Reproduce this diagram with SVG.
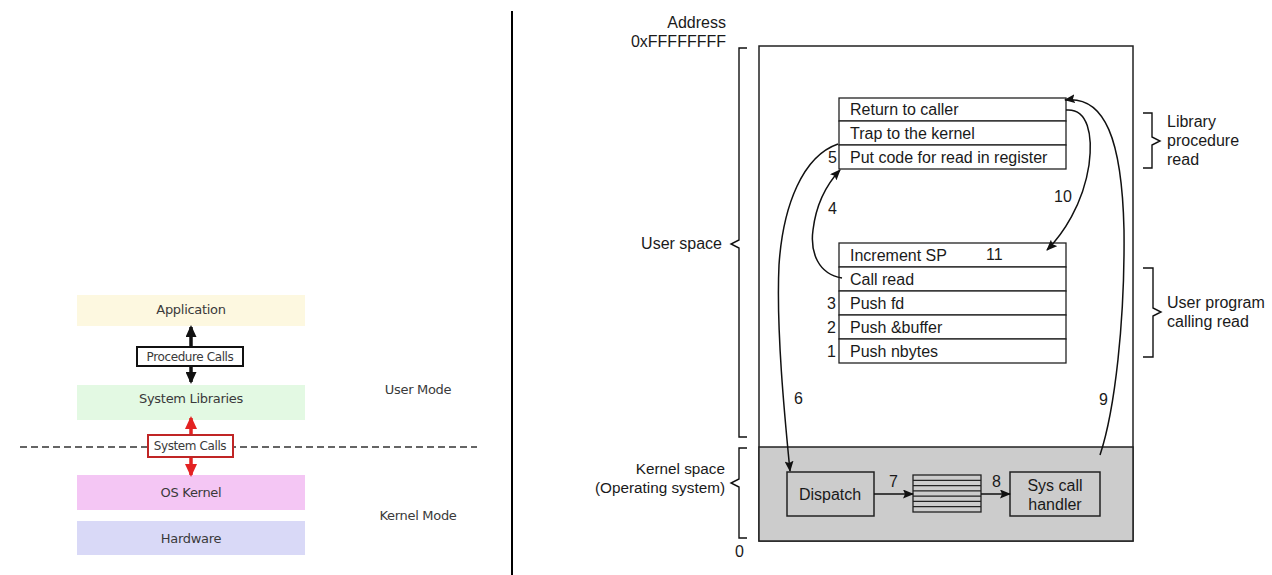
<svg xmlns="http://www.w3.org/2000/svg" width="1272" height="575" viewBox="0 0 1272 575">
<defs>
<style>
.t{font-family:"Liberation Sans",Arial,sans-serif;font-size:16px;fill:#1a1a1a}
.k{font-family:"Liberation Sans",Arial,sans-serif;font-size:15.3px;fill:#1a1a1a}
.s{font-family:"DejaVu Sans",sans-serif;font-size:13px;fill:#3a3a3a;letter-spacing:-0.3px}
.sb{font-family:"DejaVu Sans",sans-serif;font-size:12px;fill:#3a3a3a;letter-spacing:-0.4px}
.box{fill:#fff;stroke:#222;stroke-width:1.3}
.gbox{fill:#cccccc;stroke:#222;stroke-width:1.5}
.c{fill:none;stroke:#111;stroke-width:1.5}
.br{fill:none;stroke:#111;stroke-width:1.4}
</style>
<marker id="ah" markerWidth="11" markerHeight="9" refX="10" refY="4.5" orient="auto" markerUnits="userSpaceOnUse">
<path d="M0,0 L11,4.5 L0,9 L2,4.5 Z" fill="#111"/>
</marker>
<marker id="bh" markerWidth="12" markerHeight="11" refX="10" refY="5.5" orient="auto-start-reverse" markerUnits="userSpaceOnUse">
<path d="M0,0 L12,5.5 L0,11 Z" fill="#111"/>
</marker>
<marker id="rh" markerWidth="13" markerHeight="12" refX="11" refY="6" orient="auto-start-reverse" markerUnits="userSpaceOnUse">
<path d="M0,0 L13,6 L0,12 Z" fill="#e32222"/>
</marker>
</defs>
<rect width="1272" height="575" fill="#fff"/>

<!-- Left diagram -->
<g id="application"><rect x="77" y="295" width="228" height="31" fill="#fdf8e0"/><text class="s" x="191" y="314" text-anchor="middle">Application</text></g>
<g id="system-libraries"><rect x="77" y="385" width="228" height="35" fill="#e3f9e3"/><text class="s" x="191" y="403" text-anchor="middle">System Libraries</text></g>
<g id="os-kernel"><rect x="77" y="475" width="228" height="35" fill="#f4c6f4"/><text class="s" x="191" y="497" text-anchor="middle">OS Kernel</text></g>
<g id="hardware"><rect x="77" y="521" width="228" height="34" fill="#d9d9f7"/><text class="s" x="191" y="543" text-anchor="middle">Hardware</text></g>
<g id="mode-labels">
<text class="s" x="418" y="394" text-anchor="middle">User Mode</text>
<text class="s" x="418" y="520" text-anchor="middle">Kernel Mode</text>
</g>
<line x1="20" y1="447" x2="477" y2="447" stroke="#333" stroke-width="1.5" stroke-dasharray="7,4"/>
<g id="left-connectors">
<line x1="191" y1="327" x2="191" y2="382" stroke="#111" stroke-width="3.5" marker-start="url(#bh)" marker-end="url(#bh)"/>
<line x1="191" y1="418" x2="191" y2="475" stroke="#e32222" stroke-width="3.5" marker-start="url(#rh)" marker-end="url(#rh)"/>
</g>
<g id="procedure-calls"><rect x="137" y="347" width="106" height="19" fill="#fff" stroke="#111" stroke-width="2"/><text class="sb" x="190" y="361" text-anchor="middle">Procedure Calls</text></g>
<g id="system-calls"><rect x="148" y="435" width="85" height="22" fill="#fff" stroke="#c02525" stroke-width="2"/><text class="sb" x="190" y="450" text-anchor="middle">System Calls</text></g>

<!-- divider -->
<line x1="512" y1="11" x2="512" y2="575" stroke="#000" stroke-width="2"/>

<!-- Right diagram -->
<g id="memory">
<rect x="759" y="46" width="374" height="495" fill="#fff" stroke="#222" stroke-width="1.5"/>
<rect x="759" y="447" width="374" height="94" fill="#cccccc" stroke="#222" stroke-width="1.5"/>
</g>
<g id="address-labels">
<text class="t" x="726" y="28" text-anchor="end">Address</text>
<text class="t" x="726" y="47" text-anchor="end">0xFFFFFFFF</text>
<text class="t" x="735" y="557">0</text>
<text class="t" x="722" y="249" text-anchor="end">User space</text>
<text class="k" x="725" y="474" text-anchor="end">Kernel space</text>
<text class="k" x="725" y="493" text-anchor="end">(Operating system)</text>
</g>
<g id="braces">
<path class="br" d="M747,48 L739,48 L739,240 L731,244 L739,248 L739,437 L747,437"/>
<path class="br" d="M747,448 L739,448 L739,479 L731,483 L739,487 L739,538 L747,538"/>
<path class="br" d="M1143,113 L1152,113 L1152,137 L1160,141 L1152,145 L1152,168 L1143,168"/>
<path class="br" d="M1143,268 L1153,268 L1153,308 L1161,312 L1153,316 L1153,357 L1143,357"/>
</g>
<g id="brace-labels">
<text class="t" x="1167" y="127">Library</text>
<text class="t" x="1167" y="146">procedure</text>
<text class="t" x="1167" y="165">read</text>
<text class="t" x="1167" y="308">User program</text>
<text class="t" x="1167" y="327">calling read</text>
</g>

<g id="library-procedure">
<rect class="box" x="839" y="98" width="227" height="23"/>
<rect class="box" x="839" y="121" width="227" height="24"/>
<rect class="box" x="839" y="145" width="227" height="24"/>
<text class="t" x="850" y="115">Return to caller</text>
<text class="t" x="850" y="139">Trap to the kernel</text>
<text class="t" x="850" y="163">Put code for read in register</text>
<text class="t" x="837" y="163" text-anchor="end">5</text>
</g>

<g id="user-program">
<rect class="box" x="839" y="243" width="227" height="24"/>
<rect class="box" x="839" y="267" width="227" height="24"/>
<rect class="box" x="839" y="291" width="227" height="24"/>
<rect class="box" x="839" y="315" width="227" height="24"/>
<rect class="box" x="839" y="339" width="227" height="24"/>
<text class="t" x="850" y="261">Increment SP</text>
<text class="t" x="986" y="260">11</text>
<text class="t" x="850" y="285">Call read</text>
<text class="t" x="850" y="309">Push fd</text>
<text class="t" x="850" y="333">Push &amp;buffer</text>
<text class="t" x="850" y="357">Push nbytes</text>
<text class="t" x="836" y="309" text-anchor="end">3</text>
<text class="t" x="836" y="333" text-anchor="end">2</text>
<text class="t" x="836" y="357" text-anchor="end">1</text>
</g>

<g id="dispatch"><rect class="gbox" x="787" y="472" width="87" height="44"/><text class="t" x="830" y="500" text-anchor="middle">Dispatch</text></g>
<g id="table">
<rect x="913" y="475" width="68" height="37" fill="#cccccc" stroke="#222" stroke-width="1.3"/>
<g stroke="#222" stroke-width="1.2">
<line x1="913" y1="480.3" x2="981" y2="480.3"/>
<line x1="913" y1="485.6" x2="981" y2="485.6"/>
<line x1="913" y1="490.9" x2="981" y2="490.9"/>
<line x1="913" y1="496.1" x2="981" y2="496.1"/>
<line x1="913" y1="501.4" x2="981" y2="501.4"/>
<line x1="913" y1="506.7" x2="981" y2="506.7"/>
</g>
</g>
<g id="sys-call-handler"><rect class="gbox" x="1010" y="472" width="90" height="44"/><text class="t" x="1055" y="491" text-anchor="middle">Sys call</text><text class="t" x="1055" y="510" text-anchor="middle">handler</text></g>

<g id="connectors">
<path class="c" d="M842,278 C818,274 810,252 813,230 C816,205 826,185 840,170" marker-end="url(#ah)"/>
<path class="c" d="M838,144 C803,156 783,205 779,265 C776,330 785,420 790,471" marker-end="url(#ah)"/>
<path class="c" d="M874,494 L913,494" marker-end="url(#ah)"/>
<path class="c" d="M981,494 L1010,494" marker-end="url(#ah)"/>
<path class="c" d="M1100,455 C1115,410 1125,320 1124,230 C1122,140 1105,95 1065,100" marker-end="url(#ah)"/>
<path class="c" d="M1066,110 C1088,108 1093,135 1089,165 C1083,205 1062,235 1047,250" marker-end="url(#ah)"/>
</g>
<g id="connector-labels">
<text class="t" x="828" y="214">4</text>
<text class="t" x="794" y="404">6</text>
<text class="t" x="889" y="487">7</text>
<text class="t" x="992" y="487">8</text>
<text class="t" x="1099" y="405">9</text>
<text class="t" x="1054" y="202">10</text>
</g>
</svg>
